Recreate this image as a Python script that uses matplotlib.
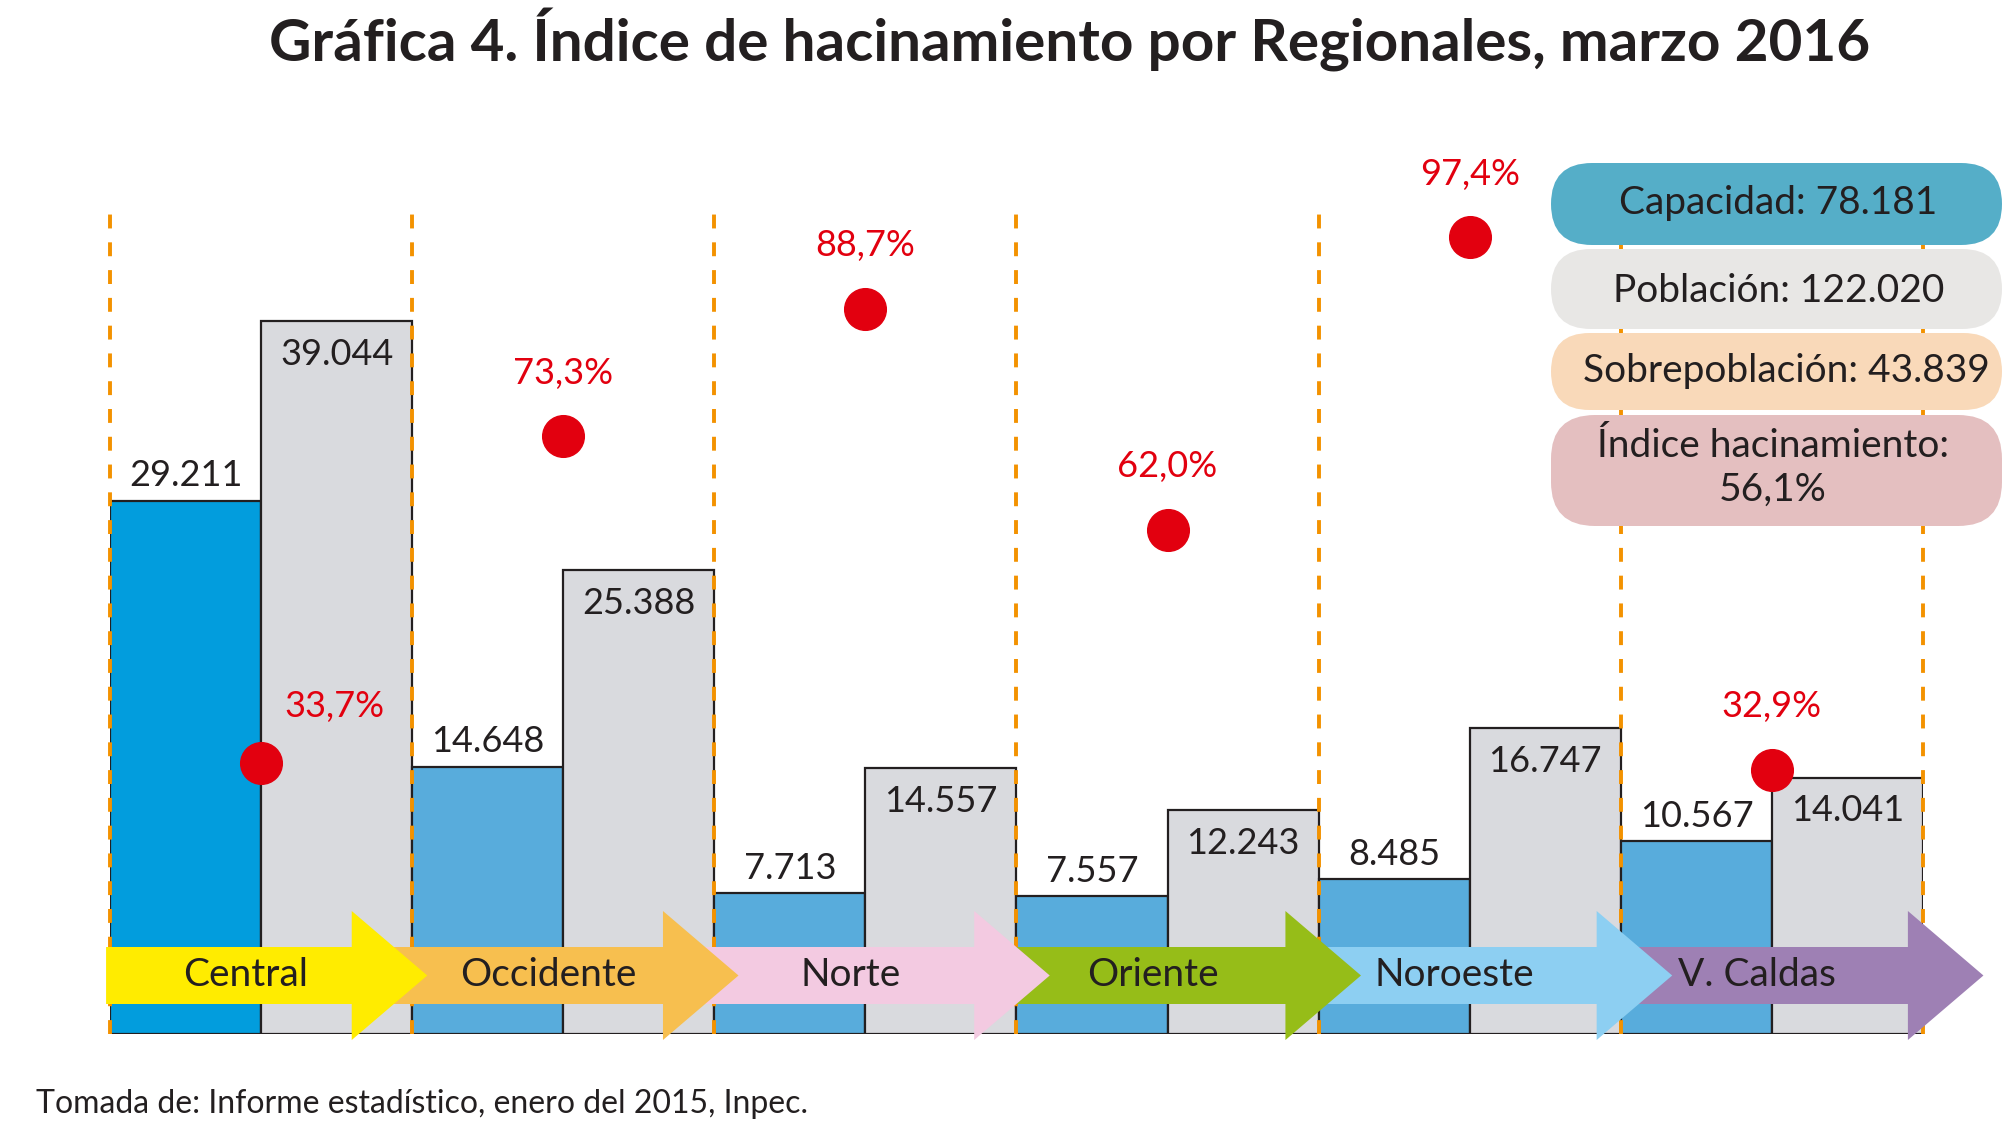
import matplotlib
matplotlib.use('Agg')
import matplotlib.pyplot as plt
from matplotlib.patches import Polygon, FancyBboxPatch
from matplotlib.transforms import blended_transform_factory

# datos de la grafica
regiones = ['Central', 'Occidente', 'Norte', 'Oriente', 'Noroeste', 'V. Caldas']
capacidad = [29211, 14648, 7713, 7557, 8485, 10567]
poblacion = [39044, 25388, 14557, 12243, 16747, 14041]
hacinamiento = [33.7, 73.3, 88.7, 62.0, 97.4, 32.9]
resumen = ['Capacidad: 78.181', 'Población: 122.020',
           'Sobrepoblación: 43.839', 'Índice hacinamiento:\n56,1%']

colores_flecha = ['#FFEC00', '#F7BF4F', '#F3CAE1', '#96BD18', '#8DCFF2', '#9E80B4']
colores_resumen = ['#55AEC8', '#E8E7E5', '#F9D9B9', '#E4BFC0']
azul_central = '#029DDD'
azul = '#58ACDC'
gris = '#D9DADE'
rojo = '#E2000F'
naranja = '#F39200'
negro = '#231F20'

plt.rcParams['font.family'] = ['Lato', 'DejaVu Sans']
plt.rcParams['lines.scale_dashes'] = False

W, H = 2011, 1135
fig = plt.figure(figsize=(W / 100, H / 100), dpi=100)

# ejes principales en pixeles: x 110..1923, base en y=1034
ax = fig.add_axes([110 / W, (H - 1034) / H, 1813 / W, 913 / H])
ax.set_xlim(-0.5, 5.5)
ax.set_ylim(0, 50000)
ax.axis('off')

ax2 = ax.twinx()
ax2.set_ylim(0.9, 111.5)
ax2.axis('off')

# capa superior en coordenadas de pixel
ov = fig.add_axes([0, 0, 1, 1], zorder=10)
ov.set_xlim(0, W)
ov.set_ylim(H, 0)
ov.axis('off')

n = len(regiones)
for i in range(n):
	ax.bar(i - 0.25, capacidad[i], width=0.5, color=azul_central if i == 0 else azul,
		   edgecolor=negro, linewidth=1.6, zorder=2)
	ax.bar(i + 0.25, poblacion[i], width=0.5, color=gris,
		   edgecolor=negro, linewidth=1.6, zorder=2)
	ax.annotate(f"{capacidad[i]:,}".replace(',', '.'), (i - 0.25, capacidad[i]),
				xytext=(0, 6), textcoords='offset points', ha='center', va='bottom',
				fontsize=26, color=negro, zorder=6)
	ax.annotate(f"{poblacion[i]:,}".replace(',', '.'), (i + 0.25, poblacion[i]),
				xytext=(0, -12), textcoords='offset points', ha='center', va='top',
				fontsize=26, color=negro, zorder=6)

# lineas punteadas entre regionales
for b in range(n + 1):
	ax.plot([b - 0.5, b - 0.5], [0, 44900], color=naranja, lw=2.8,
			ls=(0, (10, 10)), zorder=3, clip_on=False)

# puntos de hacinamiento
for i, p in enumerate(hacinamiento):
	ax2.plot(i, p, 'o', color=rojo, markersize=30, zorder=4, clip_on=False)
	dx, dy = (53, 33) if i == 0 else (0, 38)
	ax2.annotate(f"{p:.1f}%".replace('.', ','), (i, p), xytext=(dx, dy),
				 textcoords='offset points', ha='center', va='baseline',
				 fontsize=26, color=rojo, zorder=6)

# flechas de regionales
tr = blended_transform_factory(ax.transData, ov.transData)
body_top, body_bot = 947, 1004
head_top, head_bot = 911, 1040
head_len = 0.25
start = -0.513
for i in range(n):
	tip = i + 0.55 + 0.03 * i
	hs = tip - head_len
	pts = [(start, body_top), (hs, body_top), (hs, head_top), (tip, (body_top + body_bot) / 2),
		   (hs, head_bot), (hs, body_bot), (start, body_bot)]
	ax.add_patch(Polygon(pts, closed=True, facecolor=colores_flecha[i], edgecolor='none',
						 transform=tr, zorder=20 - i, clip_on=False))
	ax.text(i - 0.05, 975, regiones[i], transform=tr, ha='center', va='center',
			fontsize=28, color=negro, zorder=30)
	start = hs

# recuadros de resumen
cajas = [(163, 245), (249, 329), (333, 410), (415, 526)]
centros = [(1778, 203), (1779, 291), (1786, 371), (1773, 468)]
for (y0, y1), c, t, (cx, cy) in zip(cajas, colores_resumen, resumen, centros):
	h = y1 - y0
	r = min(h / 2, 44)
	ov.add_patch(FancyBboxPatch((1551 + r, y0 + r), 451 - 2 * r, h - 2 * r,
								boxstyle=f"round,pad={r},rounding_size={r}",
								facecolor=c, edgecolor='none'))
	ov.text(cx, cy, t, ha='center', va='center', fontsize=28, color=negro,
			linespacing=1.25)

fig.text(1070 / W, 1 - 40 / H, 'Gráfica 4. Índice de hacinamiento por Regionales, marzo 2016',
		 ha='center', va='center', fontsize=42, fontweight='bold', color=negro)
fig.text(36 / W, 1 - 1104 / H, 'Tomada de: Informe estadístico, enero del 2015, Inpec.',
		 ha='left', va='center', fontsize=23, color=negro)

fig.savefig('out.png', dpi=100)
